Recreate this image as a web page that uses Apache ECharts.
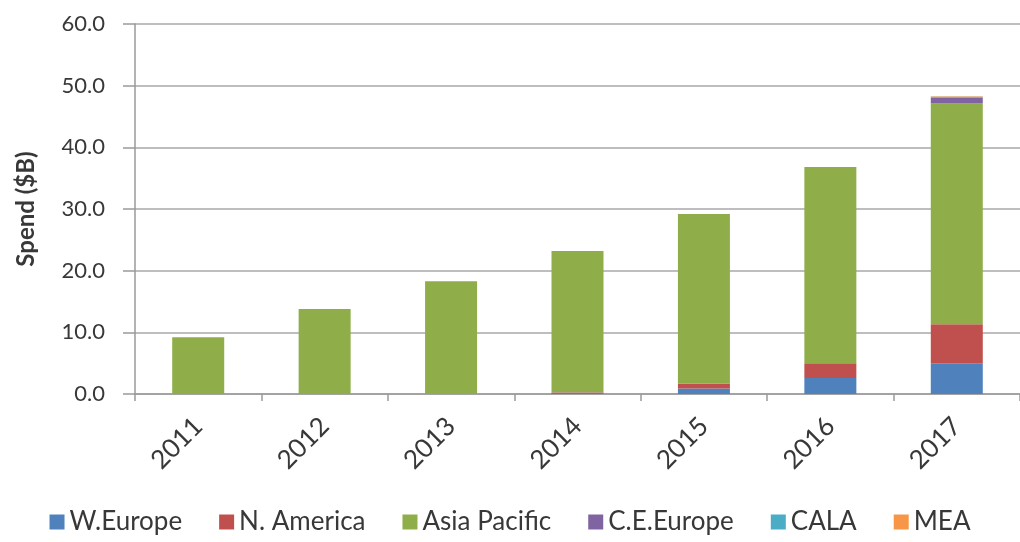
<!DOCTYPE html>
<html>
<head>
<meta charset="utf-8">
<script src="https://cdn.jsdelivr.net/npm/echarts@6/dist/echarts.min.js"></script>
<style>html,body{margin:0;padding:0;background:#fff}#c{width:1020px;height:542px}</style>
</head>
<body>
<div id="c"></div>
<script>
const years = ['2011','2012','2013','2014','2015','2016','2017'];
const wEurope   = [0.0, 0.0, 0.0, 0.2, 0.9, 2.6, 5.0];
const nAmerica  = [0.0, 0.0, 0.0, 0.1, 0.8, 2.4, 6.3];
const asiaPac   = [9.2, 13.8, 18.3, 22.9, 27.5, 31.8, 35.8];
const ceEurope  = [0.0, 0.0, 0.0, 0.0, 0.0, 0.0, 1.0];
const cala      = [0.0, 0.0, 0.0, 0.0, 0.0, 0.0, 0.1];
const mea       = [0.0, 0.0, 0.0, 0.0, 0.0, 0.0, 0.1];
const yTicks = [0, 10, 20, 30, 40, 50, 60];

const font = 'Lato';
const txt = '#383838';
const names = ['W.Europe','N. America','Asia Pacific','C.E.Europe','CALA','MEA'];
const colors = ['#4F81BD','#C0504D','#8FAE4A','#8064A2','#4BACC6','#F79646'];
const data = [wEurope, nAmerica, asiaPac, ceEurope, cala, mea];

const chart = echarts.init(document.getElementById('c'));
chart.setOption({
  animation: false,
  grid: { left: 135, right: -3, top: 24, bottom: 148 },
  legend: {
    bottom: 2, left: 'center', itemWidth: 15, itemHeight: 15, itemGap: 37,
    icon: 'rect',
    textStyle: { fontFamily: font, fontSize: 26, color: txt },
    data: names
  },
  xAxis: {
    type: 'category', data: years,
    axisLine: { lineStyle: { color: '#9a9a9a', width: 1.5 } },
    axisTick: { show: true, length: 7, lineStyle: { color: '#9a9a9a', width: 1.5 } },
    axisLabel: { rotate: 45, margin: 28, fontFamily: font, fontSize: 26, color: txt }
  },
  yAxis: {
    type: 'value', min: yTicks[0], max: yTicks[yTicks.length-1], interval: 10,
    name: 'Spend ($B)', nameLocation: 'middle', nameGap: 97,
    nameTextStyle: { fontFamily: font, fontSize: 24, fontWeight: 'bold', color: txt },
    axisLine: { show: true, lineStyle: { color: '#9a9a9a', width: 1.5 } },
    axisTick: { show: true, length: 12, lineStyle: { color: '#9a9a9a', width: 1.5 } },
    axisLabel: { margin: 30, fontFamily: font, fontSize: 22, color: txt,
      formatter: v => v.toFixed(1) },
    splitLine: { lineStyle: { color: '#a8a8a8', width: 1.5 } }
  },
  series: names.map((n, i) => ({
    name: n, type: 'bar', stack: 'total', barWidth: 52,
    itemStyle: { color: colors[i] },
    data: data[i]
  }))
});
</script>
</body>
</html>
